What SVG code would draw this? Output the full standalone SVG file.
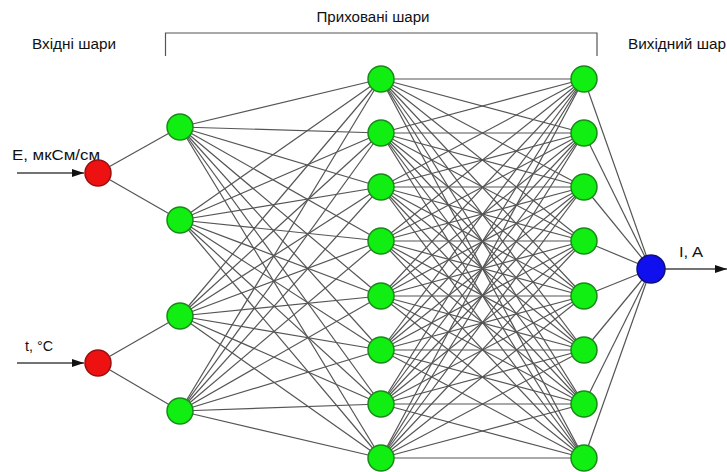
<svg xmlns="http://www.w3.org/2000/svg" width="727" height="472" viewBox="0 0 727 472">
<style>
.t{font-family:"Liberation Sans",Arial,sans-serif;fill:#111;}
.c line{stroke:#555;stroke-width:1.2;}
.g{fill:#11ee11;stroke:#1a8a1a;stroke-width:1.5;}
.r{fill:#ee1111;stroke:#9a1010;stroke-width:1.5;}
.b{fill:#1010ee;stroke:#10107a;stroke-width:1.5;}
.c line.ar{stroke:#444;stroke-width:1.4;fill:none;}
</style>
<defs>
<marker id="ah" markerWidth="12" markerHeight="8" refX="12" refY="4" orient="auto" markerUnits="userSpaceOnUse">
<path d="M0,0 L12,4 L0,8 Z" fill="#111"/>
</marker>
</defs>
<rect width="727" height="472" fill="#fff"/>
<text class="t" x="373" y="22" font-size="14" text-anchor="middle" textLength="113" lengthAdjust="spacingAndGlyphs">Приховані шари</text>
<path d="M165.5,56 V33 H597 V56" fill="none" stroke="#555" stroke-width="1.2"/>
<text class="t" x="32" y="49" font-size="14" textLength="84" lengthAdjust="spacingAndGlyphs">Вхідні шари</text>
<text class="t" x="628" y="49" font-size="14" textLength="98" lengthAdjust="spacingAndGlyphs">Вихідний шар</text>
<text class="t" x="12" y="160" font-size="15" textLength="88" lengthAdjust="spacingAndGlyphs">E, мкСм/см</text>
<text class="t" x="25" y="351" font-size="15" textLength="28" lengthAdjust="spacingAndGlyphs">t, °C</text>
<text class="t" x="679" y="257" font-size="15" textLength="24" lengthAdjust="spacingAndGlyphs">I, A</text>
<g id="connectors" class="c">
<line class="ar" x1="17" y1="173" x2="84" y2="173" marker-end="url(#ah)"/>
<line class="ar" x1="17" y1="363" x2="84" y2="363" marker-end="url(#ah)"/>
<line class="ar" x1="665" y1="269" x2="727" y2="269" marker-end="url(#ah)"/>
<line x1="98" y1="173" x2="180" y2="127"/><line x1="98" y1="173" x2="180" y2="220"/>
<line x1="98" y1="363" x2="180" y2="316"/><line x1="98" y1="363" x2="180" y2="411"/>
<line x1="180" y1="127" x2="381" y2="79"/><line x1="180" y1="127" x2="381" y2="133"/><line x1="180" y1="127" x2="381" y2="187"/><line x1="180" y1="127" x2="381" y2="241"/><line x1="180" y1="127" x2="381" y2="296"/><line x1="180" y1="127" x2="381" y2="350"/><line x1="180" y1="127" x2="381" y2="404"/><line x1="180" y1="127" x2="381" y2="458"/>
<line x1="180" y1="220" x2="381" y2="79"/><line x1="180" y1="220" x2="381" y2="133"/><line x1="180" y1="220" x2="381" y2="187"/><line x1="180" y1="220" x2="381" y2="241"/><line x1="180" y1="220" x2="381" y2="296"/><line x1="180" y1="220" x2="381" y2="350"/><line x1="180" y1="220" x2="381" y2="404"/><line x1="180" y1="220" x2="381" y2="458"/>
<line x1="180" y1="316" x2="381" y2="79"/><line x1="180" y1="316" x2="381" y2="133"/><line x1="180" y1="316" x2="381" y2="187"/><line x1="180" y1="316" x2="381" y2="241"/><line x1="180" y1="316" x2="381" y2="296"/><line x1="180" y1="316" x2="381" y2="350"/><line x1="180" y1="316" x2="381" y2="404"/><line x1="180" y1="316" x2="381" y2="458"/>
<line x1="180" y1="411" x2="381" y2="79"/><line x1="180" y1="411" x2="381" y2="133"/><line x1="180" y1="411" x2="381" y2="187"/><line x1="180" y1="411" x2="381" y2="241"/><line x1="180" y1="411" x2="381" y2="296"/><line x1="180" y1="411" x2="381" y2="350"/><line x1="180" y1="411" x2="381" y2="404"/><line x1="180" y1="411" x2="381" y2="458"/>
<line x1="381" y1="79" x2="584" y2="79"/><line x1="381" y1="79" x2="584" y2="133"/><line x1="381" y1="79" x2="584" y2="187"/><line x1="381" y1="79" x2="584" y2="241"/><line x1="381" y1="79" x2="584" y2="296"/><line x1="381" y1="79" x2="584" y2="350"/><line x1="381" y1="79" x2="584" y2="404"/><line x1="381" y1="79" x2="584" y2="458"/>
<line x1="381" y1="133" x2="584" y2="79"/><line x1="381" y1="133" x2="584" y2="133"/><line x1="381" y1="133" x2="584" y2="187"/><line x1="381" y1="133" x2="584" y2="241"/><line x1="381" y1="133" x2="584" y2="296"/><line x1="381" y1="133" x2="584" y2="350"/><line x1="381" y1="133" x2="584" y2="404"/><line x1="381" y1="133" x2="584" y2="458"/>
<line x1="381" y1="187" x2="584" y2="79"/><line x1="381" y1="187" x2="584" y2="133"/><line x1="381" y1="187" x2="584" y2="187"/><line x1="381" y1="187" x2="584" y2="241"/><line x1="381" y1="187" x2="584" y2="296"/><line x1="381" y1="187" x2="584" y2="350"/><line x1="381" y1="187" x2="584" y2="404"/><line x1="381" y1="187" x2="584" y2="458"/>
<line x1="381" y1="241" x2="584" y2="79"/><line x1="381" y1="241" x2="584" y2="133"/><line x1="381" y1="241" x2="584" y2="187"/><line x1="381" y1="241" x2="584" y2="241"/><line x1="381" y1="241" x2="584" y2="296"/><line x1="381" y1="241" x2="584" y2="350"/><line x1="381" y1="241" x2="584" y2="404"/><line x1="381" y1="241" x2="584" y2="458"/>
<line x1="381" y1="296" x2="584" y2="79"/><line x1="381" y1="296" x2="584" y2="133"/><line x1="381" y1="296" x2="584" y2="187"/><line x1="381" y1="296" x2="584" y2="241"/><line x1="381" y1="296" x2="584" y2="296"/><line x1="381" y1="296" x2="584" y2="350"/><line x1="381" y1="296" x2="584" y2="404"/><line x1="381" y1="296" x2="584" y2="458"/>
<line x1="381" y1="350" x2="584" y2="79"/><line x1="381" y1="350" x2="584" y2="133"/><line x1="381" y1="350" x2="584" y2="187"/><line x1="381" y1="350" x2="584" y2="241"/><line x1="381" y1="350" x2="584" y2="296"/><line x1="381" y1="350" x2="584" y2="350"/><line x1="381" y1="350" x2="584" y2="404"/><line x1="381" y1="350" x2="584" y2="458"/>
<line x1="381" y1="404" x2="584" y2="79"/><line x1="381" y1="404" x2="584" y2="133"/><line x1="381" y1="404" x2="584" y2="187"/><line x1="381" y1="404" x2="584" y2="241"/><line x1="381" y1="404" x2="584" y2="296"/><line x1="381" y1="404" x2="584" y2="350"/><line x1="381" y1="404" x2="584" y2="404"/><line x1="381" y1="404" x2="584" y2="458"/>
<line x1="381" y1="458" x2="584" y2="79"/><line x1="381" y1="458" x2="584" y2="133"/><line x1="381" y1="458" x2="584" y2="187"/><line x1="381" y1="458" x2="584" y2="241"/><line x1="381" y1="458" x2="584" y2="296"/><line x1="381" y1="458" x2="584" y2="350"/><line x1="381" y1="458" x2="584" y2="404"/><line x1="381" y1="458" x2="584" y2="458"/>
<line x1="584" y1="79" x2="651" y2="269"/><line x1="584" y1="133" x2="651" y2="269"/><line x1="584" y1="187" x2="651" y2="269"/><line x1="584" y1="241" x2="651" y2="269"/><line x1="584" y1="296" x2="651" y2="269"/><line x1="584" y1="350" x2="651" y2="269"/><line x1="584" y1="404" x2="651" y2="269"/><line x1="584" y1="458" x2="651" y2="269"/>
</g>
<g id="in1"><circle class="r" cx="98" cy="173" r="13"/></g>
<g id="in2"><circle class="r" cx="98" cy="363" r="13"/></g>
<g id="h1_1"><circle class="g" cx="180" cy="127" r="13"/></g>
<g id="h1_2"><circle class="g" cx="180" cy="220" r="13"/></g>
<g id="h1_3"><circle class="g" cx="180" cy="316" r="13"/></g>
<g id="h1_4"><circle class="g" cx="180" cy="411" r="13"/></g>
<g id="h2_1"><circle class="g" cx="381" cy="79" r="13"/></g>
<g id="h2_2"><circle class="g" cx="381" cy="133" r="13"/></g>
<g id="h2_3"><circle class="g" cx="381" cy="187" r="13"/></g>
<g id="h2_4"><circle class="g" cx="381" cy="241" r="13"/></g>
<g id="h2_5"><circle class="g" cx="381" cy="296" r="13"/></g>
<g id="h2_6"><circle class="g" cx="381" cy="350" r="13"/></g>
<g id="h2_7"><circle class="g" cx="381" cy="404" r="13"/></g>
<g id="h2_8"><circle class="g" cx="381" cy="458" r="13"/></g>
<g id="h3_1"><circle class="g" cx="584" cy="79" r="13"/></g>
<g id="h3_2"><circle class="g" cx="584" cy="133" r="13"/></g>
<g id="h3_3"><circle class="g" cx="584" cy="187" r="13"/></g>
<g id="h3_4"><circle class="g" cx="584" cy="241" r="13"/></g>
<g id="h3_5"><circle class="g" cx="584" cy="296" r="13"/></g>
<g id="h3_6"><circle class="g" cx="584" cy="350" r="13"/></g>
<g id="h3_7"><circle class="g" cx="584" cy="404" r="13"/></g>
<g id="h3_8"><circle class="g" cx="584" cy="458" r="13"/></g>
<g id="out"><circle class="b" cx="651" cy="269" r="14"/></g>
</svg>
